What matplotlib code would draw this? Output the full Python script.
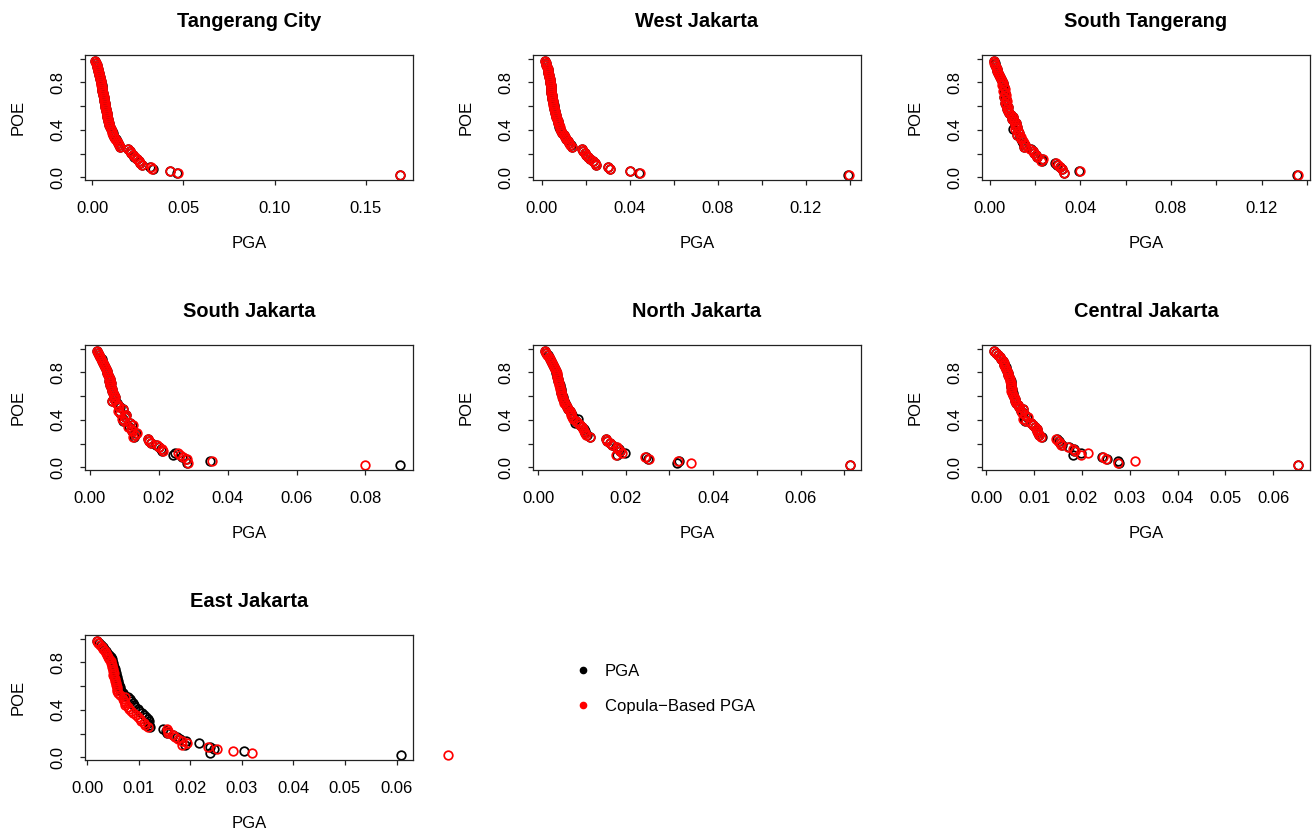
import numpy as np
import matplotlib.pyplot as plt
from matplotlib.lines import Line2D

plt.rcParams['font.family'] = ['Liberation Sans', 'DejaVu Sans']

W, H = 1313, 833

# probability of exceedance (same ranks for every district)
poe = [0.983, 0.966, 0.949, 0.932, 0.915, 0.898, 0.881, 0.864, 0.847, 0.831,
       0.814, 0.797, 0.780, 0.763, 0.746, 0.729, 0.712, 0.695, 0.678, 0.661,
       0.644, 0.627, 0.610, 0.593, 0.576, 0.559, 0.542, 0.525, 0.508, 0.492,
       0.475, 0.458, 0.441, 0.424, 0.407, 0.390, 0.373, 0.356, 0.339, 0.322,
       0.305, 0.288, 0.271, 0.254, 0.237, 0.220, 0.203, 0.186, 0.169, 0.153,
       0.136, 0.119, 0.102, 0.085, 0.068, 0.051, 0.034, 0.017]

districts = ['Tangerang City', 'West Jakarta', 'South Tangerang', 'South Jakarta',
             'North Jakarta', 'Central Jakarta', 'East Jakarta']

# PGA (black) and copula-based PGA (red)
pga_tangerang = [0.0015, 0.0020, 0.0024, 0.0027, 0.0031, 0.0033, 0.0036, 0.0039, 0.0042, 0.0044,
                 0.0046, 0.0048, 0.0051, 0.0052, 0.0054, 0.0056, 0.0058, 0.0061, 0.0062, 0.0064,
                 0.0066, 0.0068, 0.0071, 0.0072, 0.0074, 0.0076, 0.0079, 0.0080, 0.0083, 0.0085,
                 0.0088, 0.0090, 0.0093, 0.0098, 0.0101, 0.0106, 0.0111, 0.0115, 0.0121, 0.0128,
                 0.0134, 0.0141, 0.0146, 0.0151, 0.0197, 0.0205, 0.0214, 0.0222, 0.0231, 0.0243,
                 0.0254, 0.0263, 0.0272, 0.0319, 0.0331, 0.0424, 0.0467, 0.1688]
cop_tangerang = [0.0015, 0.0020, 0.0024, 0.0028, 0.0031, 0.0034, 0.0036, 0.0039, 0.0041, 0.0044,
                 0.0046, 0.0048, 0.0050, 0.0052, 0.0054, 0.0056, 0.0058, 0.0060, 0.0062, 0.0064,
                 0.0066, 0.0068, 0.0070, 0.0072, 0.0074, 0.0076, 0.0078, 0.0080, 0.0082, 0.0085,
                 0.0087, 0.0090, 0.0093, 0.0097, 0.0101, 0.0106, 0.0110, 0.0115, 0.0121, 0.0127,
                 0.0134, 0.0140, 0.0146, 0.0152, 0.0198, 0.0205, 0.0213, 0.0222, 0.0232, 0.0243,
                 0.0254, 0.0262, 0.0272, 0.0320, 0.0330, 0.0425, 0.0468, 0.1690]

pga_west = [0.0015, 0.0018, 0.0021, 0.0024, 0.0026, 0.0028, 0.0030, 0.0032, 0.0034, 0.0036,
            0.0038, 0.0039, 0.0040, 0.0041, 0.0042, 0.0043, 0.0044, 0.0045, 0.0047, 0.0048,
            0.0050, 0.0052, 0.0054, 0.0055, 0.0057, 0.0059, 0.0061, 0.0064, 0.0066, 0.0069,
            0.0072, 0.0075, 0.0078, 0.0080, 0.0084, 0.0088, 0.0094, 0.0100, 0.0105, 0.0112,
            0.0118, 0.0124, 0.0131, 0.0136, 0.0182, 0.0188, 0.0196, 0.0203, 0.0212, 0.0221,
            0.0232, 0.0240, 0.0246, 0.0302, 0.0308, 0.0400, 0.0440, 0.1393]
cop_west = [0.0015, 0.0018, 0.0021, 0.0024, 0.0026, 0.0028, 0.0030, 0.0032, 0.0034, 0.0036,
            0.0038, 0.0039, 0.0040, 0.0041, 0.0042, 0.0043, 0.0044, 0.0045, 0.0046, 0.0048,
            0.0050, 0.0052, 0.0053, 0.0055, 0.0057, 0.0059, 0.0061, 0.0063, 0.0066, 0.0069,
            0.0072, 0.0075, 0.0078, 0.0081, 0.0083, 0.0088, 0.0094, 0.0100, 0.0106, 0.0112,
            0.0118, 0.0124, 0.0130, 0.0136, 0.0182, 0.0188, 0.0195, 0.0203, 0.0212, 0.0220,
            0.0232, 0.0240, 0.0245, 0.0302, 0.0308, 0.0400, 0.0448, 0.1395]

pga_stangerang = [0.0018, 0.0022, 0.0025, 0.0028, 0.0032, 0.0034, 0.0037, 0.0040, 0.0045, 0.0049,
                  0.0054, 0.0058, 0.0057, 0.0062, 0.0065, 0.0061, 0.0066, 0.0069, 0.0065, 0.0072,
                  0.0074, 0.0069, 0.0073, 0.0079, 0.0077, 0.0081, 0.0085, 0.0094, 0.0102, 0.0100,
                  0.0108, 0.0116, 0.0110, 0.0119, 0.0104, 0.0124, 0.0129, 0.0122, 0.0135, 0.0140,
                  0.0144, 0.0149, 0.0154, 0.0151, 0.0181, 0.0190, 0.0196, 0.0205, 0.0211, 0.0233,
                  0.0229, 0.0290, 0.0299, 0.0309, 0.0317, 0.0395, 0.0327, 0.1358]
cop_stangerang = [0.0018, 0.0021, 0.0025, 0.0028, 0.0031, 0.0034, 0.0037, 0.0041, 0.0044, 0.0050,
                  0.0054, 0.0059, 0.0056, 0.0062, 0.0066, 0.0060, 0.0066, 0.0070, 0.0064, 0.0072,
                  0.0075, 0.0068, 0.0072, 0.0079, 0.0076, 0.0081, 0.0084, 0.0095, 0.0103, 0.0100,
                  0.0108, 0.0118, 0.0112, 0.0120, 0.0110, 0.0125, 0.0130, 0.0122, 0.0136, 0.0140,
                  0.0145, 0.0150, 0.0155, 0.0150, 0.0180, 0.0191, 0.0195, 0.0206, 0.0210, 0.0235,
                  0.0228, 0.0292, 0.0300, 0.0310, 0.0318, 0.0397, 0.0328, 0.1360]

pga_south = [0.0019, 0.0023, 0.0026, 0.0030, 0.0034, 0.0036, 0.0039, 0.0042, 0.0044, 0.0046,
             0.0049, 0.0050, 0.0053, 0.0054, 0.0057, 0.0056, 0.0060, 0.0058, 0.0062, 0.0064,
             0.0064, 0.0068, 0.0070, 0.0074, 0.0071, 0.0064, 0.0077, 0.0081, 0.0086, 0.0096,
             0.0083, 0.0087, 0.0105, 0.0101, 0.0095, 0.0095, 0.0115, 0.0123, 0.0112, 0.0118,
             0.0123, 0.0135, 0.0131, 0.0127, 0.0168, 0.0172, 0.0177, 0.0193, 0.0201, 0.0207,
             0.0210, 0.0248, 0.0241, 0.0268, 0.0280, 0.0348, 0.0283, 0.0900]
cop_south = [0.0019, 0.0022, 0.0026, 0.0030, 0.0033, 0.0036, 0.0039, 0.0041, 0.0043, 0.0046,
             0.0048, 0.0050, 0.0052, 0.0054, 0.0058, 0.0055, 0.0060, 0.0057, 0.0062, 0.0065,
             0.0063, 0.0068, 0.0071, 0.0074, 0.0070, 0.0063, 0.0076, 0.0082, 0.0085, 0.0097,
             0.0082, 0.0086, 0.0106, 0.0102, 0.0094, 0.0099, 0.0116, 0.0124, 0.0111, 0.0118,
             0.0122, 0.0136, 0.0130, 0.0126, 0.0169, 0.0172, 0.0176, 0.0194, 0.0200, 0.0208,
             0.0212, 0.0256, 0.0262, 0.0270, 0.0281, 0.0355, 0.0284, 0.0798]

pga_north = [0.0015, 0.0018, 0.0022, 0.0025, 0.0027, 0.0030, 0.0031, 0.0034, 0.0036, 0.0038,
             0.0040, 0.0041, 0.0043, 0.0044, 0.0046, 0.0046, 0.0047, 0.0049, 0.0049, 0.0051,
             0.0052, 0.0053, 0.0055, 0.0056, 0.0057, 0.0059, 0.0061, 0.0063, 0.0066, 0.0069,
             0.0073, 0.0075, 0.0077, 0.0079, 0.0092, 0.0087, 0.0084, 0.0096, 0.0100, 0.0104,
             0.0106, 0.0108, 0.0111, 0.0119, 0.0154, 0.0157, 0.0164, 0.0169, 0.0178, 0.0184,
             0.0188, 0.0198, 0.0180, 0.0246, 0.0252, 0.0322, 0.0318, 0.0712]
cop_north = [0.0015, 0.0018, 0.0021, 0.0025, 0.0027, 0.0029, 0.0031, 0.0034, 0.0036, 0.0038,
             0.0040, 0.0042, 0.0043, 0.0044, 0.0045, 0.0046, 0.0047, 0.0048, 0.0049, 0.0050,
             0.0051, 0.0053, 0.0054, 0.0055, 0.0057, 0.0058, 0.0060, 0.0063, 0.0065, 0.0068,
             0.0072, 0.0074, 0.0076, 0.0078, 0.0080, 0.0086, 0.0090, 0.0095, 0.0099, 0.0103,
             0.0105, 0.0107, 0.0110, 0.0118, 0.0155, 0.0158, 0.0163, 0.0168, 0.0179, 0.0183,
             0.0187, 0.0192, 0.0178, 0.0244, 0.0254, 0.0320, 0.0349, 0.0713]

pga_central = [0.0016, 0.0020, 0.0025, 0.0028, 0.0031, 0.0034, 0.0036, 0.0038, 0.0041, 0.0042,
               0.0044, 0.0046, 0.0046, 0.0048, 0.0049, 0.0051, 0.0051, 0.0052, 0.0052, 0.0053,
               0.0053, 0.0055, 0.0056, 0.0058, 0.0060, 0.0061, 0.0063, 0.0066, 0.0069, 0.0076,
               0.0073, 0.0076, 0.0081, 0.0086, 0.0078, 0.0080, 0.0093, 0.0098, 0.0102, 0.0106,
               0.0107, 0.0109, 0.0111, 0.0116, 0.0147, 0.0151, 0.0155, 0.0158, 0.0172, 0.0183,
               0.0183, 0.0199, 0.0181, 0.0242, 0.0252, 0.0275, 0.0277, 0.0652]
cop_central = [0.0016, 0.0020, 0.0024, 0.0028, 0.0031, 0.0034, 0.0036, 0.0038, 0.0040, 0.0042,
               0.0044, 0.0045, 0.0046, 0.0048, 0.0049, 0.0050, 0.0051, 0.0052, 0.0051, 0.0053,
               0.0052, 0.0054, 0.0056, 0.0058, 0.0059, 0.0060, 0.0062, 0.0066, 0.0068, 0.0077,
               0.0072, 0.0075, 0.0080, 0.0087, 0.0077, 0.0083, 0.0094, 0.0098, 0.0101, 0.0107,
               0.0106, 0.0108, 0.0110, 0.0115, 0.0146, 0.0150, 0.0154, 0.0157, 0.0171, 0.0181,
               0.0185, 0.0213, 0.0199, 0.0244, 0.0251, 0.0312, 0.0276, 0.0652]

pga_east = [0.0018, 0.0022, 0.0026, 0.0030, 0.0033, 0.0036, 0.0039, 0.0042, 0.0045, 0.0047,
            0.0048, 0.0049, 0.0050, 0.0052, 0.0053, 0.0054, 0.0056, 0.0055, 0.0057, 0.0058,
            0.0059, 0.0060, 0.0062, 0.0064, 0.0063, 0.0066, 0.0069, 0.0072, 0.0079, 0.0082,
            0.0084, 0.0088, 0.0091, 0.0092, 0.0098, 0.0100, 0.0106, 0.0110, 0.0114, 0.0117,
            0.0120, 0.0117, 0.0119, 0.0122, 0.0147, 0.0152, 0.0154, 0.0167, 0.0175, 0.0180,
            0.0192, 0.0217, 0.0190, 0.0238, 0.0245, 0.0304, 0.0238, 0.0608]
cop_east = [0.0018, 0.0021, 0.0025, 0.0028, 0.0031, 0.0034, 0.0036, 0.0038, 0.0041, 0.0043,
            0.0045, 0.0046, 0.0047, 0.0048, 0.0049, 0.0050, 0.0051, 0.0050, 0.0052, 0.0053,
            0.0054, 0.0055, 0.0056, 0.0057, 0.0057, 0.0058, 0.0060, 0.0063, 0.0073, 0.0070,
            0.0072, 0.0073, 0.0074, 0.0078, 0.0080, 0.0085, 0.0089, 0.0095, 0.0099, 0.0103,
            0.0105, 0.0110, 0.0112, 0.0118, 0.0154, 0.0156, 0.0157, 0.0167, 0.0170, 0.0176,
            0.0183, 0.0194, 0.0183, 0.0235, 0.0251, 0.0283, 0.0319, 0.0699]

pga_all = [pga_tangerang, pga_west, pga_stangerang, pga_south, pga_north, pga_central, pga_east]
cop_all = [cop_tangerang, cop_west, cop_stangerang, cop_south, cop_north, cop_central, cop_east]

# x axis ticks / labels per panel
x_ticks = [[0.00, 0.05, 0.10, 0.15],
           [0.00, 0.02, 0.04, 0.06, 0.08, 0.10, 0.12, 0.14],
           [0.00, 0.02, 0.04, 0.06, 0.08, 0.10, 0.12, 0.14],
           [0.00, 0.02, 0.04, 0.06, 0.08],
           [0.00, 0.01, 0.02, 0.03, 0.04, 0.05, 0.06, 0.07],
           [0.00, 0.01, 0.02, 0.03, 0.04, 0.05, 0.06],
           [0.00, 0.01, 0.02, 0.03, 0.04, 0.05, 0.06]]
x_labels = [['0.00', '0.05', '0.10', '0.15'],
            ['0.00', '', '0.04', '', '0.08', '', '0.12', ''],
            ['0.00', '', '0.04', '', '0.08', '', '0.12', ''],
            ['0.00', '0.02', '0.04', '0.06', '0.08'],
            ['0.00', '', '0.02', '', '0.04', '', '0.06', ''],
            ['0.00', '0.01', '0.02', '0.03', '0.04', '0.05', '0.06'],
            ['0.00', '0.01', '0.02', '0.03', '0.04', '0.05', '0.06']]
x_limits = [(-0.0040, 0.1760), (-0.0040, 0.1451), (-0.0034, 0.1414), (-0.00145, 0.0938),
            (-0.0012, 0.0738), (-0.0009, 0.0677), (-0.00045, 0.0632)]

y_ticks = [0.0, 0.2, 0.4, 0.6, 0.8, 1.0]
y_labels = ['0.0', '', '0.4', '', '0.8', '']

# panel boxes in pixels
box_left = [85, 533, 982]
box_top = [55, 345, 635]
box_w, box_h = 328, 125


def fx(x):
    return x / W


def fy(y):
    return 1 - y / H


fig = plt.figure(figsize=(W / 100, H / 100), dpi=100)

for i, name in enumerate(districts):
    r, c = divmod(i, 3)
    L, T = box_left[c], box_top[r]
    ax = fig.add_axes([fx(L), fy(T + box_h), box_w / W, box_h / H])
    ax.plot(pga_all[i], poe, 'o', mfc='none', mec='black', ms=6.2, mew=1.25, clip_on=False)
    ax.plot(cop_all[i], poe, 'o', mfc='none', mec='red', ms=6.2, mew=1.25, clip_on=False)
    ax.set_xlim(*x_limits[i])
    ax.set_ylim(-0.023, 1.031)
    ax.set_xticks(x_ticks[i])
    ax.set_xticklabels(x_labels[i])
    ax.set_yticks(y_ticks)
    ax.set_yticklabels(y_labels, rotation=90, va='center')
    ax.tick_params(axis='both', length=3.8, width=0.9, labelsize=12, color='#222222')
    ax.tick_params(axis='x', pad=11)
    ax.tick_params(axis='y', pad=10)
    for s in ax.spines.values():
        s.set_linewidth(0.9)
        s.set_color('#222222')

    cx = L + box_w / 2
    fig.text(fx(cx), fy(T - 28), name, ha='center', va='baseline',
             fontsize=14.4, fontweight='bold')
    fig.text(fx(cx), fy(T + box_h + 68), 'PGA', ha='center', va='baseline', fontsize=12)
    fig.text(fx(L - 62), fy(T + box_h / 2), 'POE', ha='center', va='baseline',
             rotation=90, rotation_mode='anchor', fontsize=12)

handles = [Line2D([], [], ls='none', marker='o', ms=4.5, color='black'),
           Line2D([], [], ls='none', marker='o', ms=4.5, color='red')]
fig.legend(handles, ['PGA', 'Copula\u2212Based PGA'], loc='upper left',
           bbox_to_anchor=(fx(575), fy(664)), frameon=False, fontsize=12,
           handlelength=1.0, handletextpad=0.8, labelspacing=1.2, borderpad=0,
           borderaxespad=0)

fig.savefig('out.png', dpi=100)
